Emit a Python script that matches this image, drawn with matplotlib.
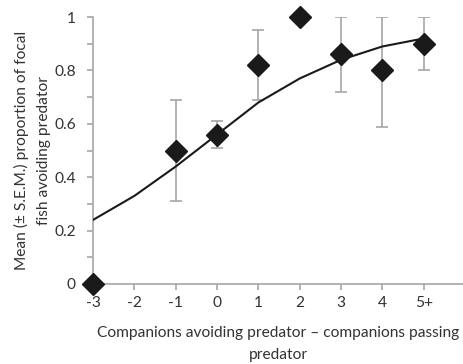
import numpy as np
import matplotlib.pyplot as plt

# data
x_labels = ["-3", "-2", "-1", "0", "1", "2", "3", "4", "5+"]
x_pos = [-3, -2, -1, 0, 1, 2, 3, 4, 5]

obs_x = [-3, -1, 0, 1, 2, 3, 4, 5]
obs_mean = [0.0, 0.50, 0.56, 0.82, 1.00, 0.86, 0.80, 0.90]
err_low = [0.0, 0.31, 0.51, 0.69, 1.00, 0.72, 0.59, 0.80]
err_high = [0.0, 0.69, 0.61, 0.95, 1.00, 1.00, 1.00, 1.00]

fit_y = [0.24, 0.33, 0.44, 0.56, 0.68, 0.77, 0.84, 0.89, 0.92]

plt.rcParams['font.family'] = ['Lato', 'DejaVu Sans']

fig = plt.figure(figsize=(4.63, 3.64), dpi=100)
ax = fig.add_axes([0.201, 0.22, 0.799, 0.733])

grey = "#a6a6a6"
txt = "#333333"

# error bars (skip ones with no spread)
lo = np.array(obs_mean) - np.array(err_low)
hi = np.array(err_high) - np.array(obs_mean)
has_err = (lo + hi) > 0
ax.errorbar(np.array(obs_x)[has_err], np.array(obs_mean)[has_err],
            yerr=[lo[has_err], hi[has_err]], fmt="none", ecolor=grey,
            elinewidth=1.2, capsize=4, capthick=1.2, zorder=2)

ax.plot(x_pos, fit_y, color="#1a1a1a", lw=1.5, zorder=3)
ax.plot(obs_x, obs_mean, linestyle="none", marker="D", ms=11,
        color="#1a1a1a", zorder=4, clip_on=False)

ax.set_xlim(-3, 5.95)
ax.set_ylim(0, 1)
ax.set_xticks(x_pos)
ax.set_xticklabels(x_labels)
ax.set_yticks([0, 0.2, 0.4, 0.6, 0.8, 1.0])
ax.set_yticklabels(["0", "0.2", "0.4", "0.6", "0.8", "1"])
ax.set_yticks(np.arange(0.1, 1.0, 0.2), minor=True)

for s in ["top", "right"]:
    ax.spines[s].set_visible(False)
for s in ["left", "bottom"]:
    ax.spines[s].set_color(grey)
    ax.spines[s].set_linewidth(1.2)

ax.tick_params(axis="both", which="both", color=grey, width=1.2, length=4.5,
               labelsize=11.2, labelcolor=txt)
ax.tick_params(axis="y", pad=8)
ax.tick_params(axis="x", pad=4)

ax.set_ylabel("Mean (± S.E.M.) proportion of focal\nfish avoiding predator",
              fontsize=11.2, color=txt, linespacing=1.75, labelpad=2)
ax.set_xlabel("Companions avoiding predator – companions passing\npredator",
              fontsize=11.2, color=txt, linespacing=1.7, labelpad=12)

fig.savefig("out.png", dpi=100)
